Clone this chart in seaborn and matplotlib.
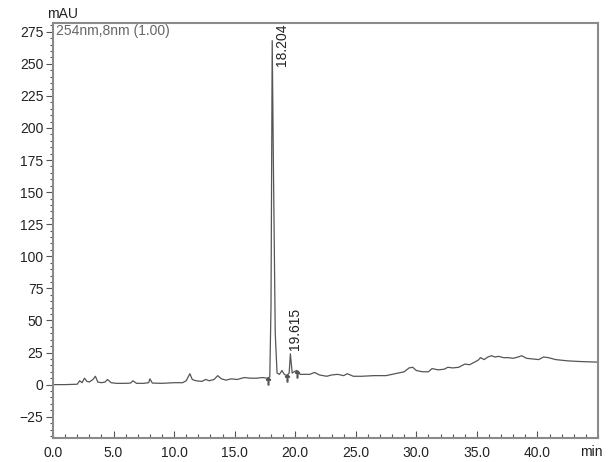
import numpy as np
import pandas as pd
import seaborn as sns
import matplotlib
import matplotlib.pyplot as plt
from matplotlib.ticker import MultipleLocator, FixedLocator, FixedFormatter
matplotlib.use('Agg')

sns.set_theme(style="white")
plt.rcParams['font.family'] = ['Liberation Sans', 'DejaVu Sans']

# chromatogram trace (time in min, signal in mAU)
time_min = [0.0, 1.0, 2.0, 2.2, 2.4, 2.6, 2.8, 3.0, 3.3, 3.5, 3.7, 4.0, 4.3, 4.5, 4.8,
            5.2, 6.0, 6.4, 6.6, 6.9, 7.5, 7.9, 8.0, 8.2, 9.0, 10.0, 10.7, 11.0, 11.3,
            11.5, 11.8, 12.3, 12.6, 12.9, 13.3, 13.6, 13.9, 14.3, 14.7, 15.2, 15.8,
            16.3, 16.8, 17.3, 17.7, 17.9, 18.0, 18.1, 18.2, 18.35, 18.5, 18.7, 18.9,
            19.1, 19.3, 19.5, 19.6, 19.75, 19.9, 20.1, 20.4, 20.8, 21.2, 21.6, 22.0,
            22.6, 23.0, 23.5, 24.0, 24.3, 24.8, 25.5, 26.5, 27.5, 28.0, 28.5, 29.0,
            29.4, 29.7, 30.0, 30.5, 31.0, 31.3, 31.8, 32.3, 32.6, 33.0, 33.5, 34.0,
            34.4, 34.8, 35.1, 35.3, 35.6, 35.9, 36.2, 36.5, 36.8, 37.2, 37.6, 38.0,
            38.4, 38.7, 39.1, 39.6, 40.1, 40.5, 40.9, 41.5, 42.5, 43.5, 45.0]
signal_mau = [0.0, 0.0, 0.3, 3.0, 1.5, 5.0, 2.5, 2.0, 4.0, 6.5, 2.0, 1.5, 2.0, 4.0, 1.5,
              1.0, 1.0, 1.2, 3.0, 1.0, 1.0, 1.5, 4.5, 1.2, 1.0, 1.5, 1.5, 3.0, 8.5,
              4.0, 3.0, 2.5, 4.0, 3.0, 4.0, 7.0, 4.5, 3.5, 4.5, 4.0, 5.5,
              5.0, 5.0, 5.5, 5.0, 6.0, 60.0, 268.0, 170.0, 40.0, 9.0, 8.0, 11.0,
              8.0, 7.0, 9.0, 24.0, 9.0, 10.0, 11.0, 8.0, 8.0, 8.0, 9.5, 7.5,
              6.5, 7.5, 8.0, 7.0, 8.5, 6.5, 6.5, 7.0, 7.0, 8.0, 9.0, 10.0,
              13.0, 13.5, 11.0, 10.0, 10.0, 12.5, 11.5, 12.0, 13.5, 13.0, 13.5, 16.0,
              15.5, 17.5, 19.0, 21.0, 19.5, 21.5, 22.5, 21.5, 22.0, 21.0, 21.0, 20.5,
              21.5, 22.5, 20.5, 20.0, 19.5, 21.5, 21.0, 19.5, 18.5, 18.0, 17.5]
df = pd.DataFrame({'time': time_min, 'signal': signal_mau})

# integration marks at peak start / end
mark_time = [17.75, 19.35, 20.15]
mark_signal = [3.0, 5.0, 8.0]

peak_labels = ['18.204', '19.615']
peak_label_x = [18.9, 20.0]
peak_label_top = [281.5, 60.0]

x_major = [0, 5, 10, 15, 20, 25, 30, 35, 40]
x_labels = ['0.0', '5.0', '10.0', '15.0', '20.0', '25.0', '30.0', '35.0', '40.0']
y_major = [-25, 0, 25, 50, 75, 100, 125, 150, 175, 200, 225, 250, 275]

line_color = '#555555'
spine_color = '#8a8a8a'
text_color = '#222222'
fontsize = 10

fig = plt.figure(figsize=(6.12, 4.62), dpi=100)
ax = fig.add_axes([53 / 612, 1 - 438 / 462, 545 / 612, 415.3 / 462])

sns.lineplot(x='time', y='signal', data=df, color=line_color, linewidth=0.9, ax=ax)
ax.plot(mark_time, mark_signal, linestyle='none', marker=r'$\uparrow$',
        markersize=5, color=line_color)

for lab, lx, ly in zip(peak_labels, peak_label_x, peak_label_top):
    ax.text(lx, ly, lab, rotation=90, ha='center', va='top',
            fontsize=fontsize, color=text_color)

ax.set_xlim(0, 45)
ax.set_ylim(-41.6, 282)
ax.xaxis.set_major_locator(FixedLocator(x_major))
ax.xaxis.set_major_formatter(FixedFormatter(x_labels))
ax.xaxis.set_minor_locator(MultipleLocator(1))
ax.yaxis.set_major_locator(FixedLocator(y_major))
ax.yaxis.set_minor_locator(MultipleLocator(5))

ax.tick_params(axis='x', which='both', bottom=True)
ax.tick_params(axis='y', which='both', left=True)
ax.tick_params(axis='x', which='major', direction='in', length=5, width=0.8,
               color=line_color, labelsize=fontsize, labelcolor=text_color, pad=6)
ax.tick_params(axis='x', which='minor', direction='in', length=3, width=0.8,
               color=line_color)
ax.tick_params(axis='y', which='major', direction='out', length=5, width=0.8,
               color=line_color, labelsize=fontsize, labelcolor=text_color, pad=2)
ax.tick_params(axis='y', which='minor', direction='out', length=2.5, width=0.8,
               color=line_color)

for s in ax.spines.values():
    s.set_color(spine_color)
    s.set_linewidth(1.5)

ax.set_xlabel('')
ax.set_ylabel('')

ax.text(45.4, -0.017, 'min', transform=ax.get_xaxis_transform(), ha='right', va='top',
        fontsize=fontsize, color=text_color)
ax.text(0.006, 0.997, '254nm,8nm (1.00)', transform=ax.transAxes, ha='left', va='top',
        fontsize=fontsize, color='#666666')
fig.text(47 / 612, 1 - 14 / 462, 'mAU', ha='left', va='center',
         fontsize=fontsize, color=text_color)

fig.savefig('out.png', dpi=100)
